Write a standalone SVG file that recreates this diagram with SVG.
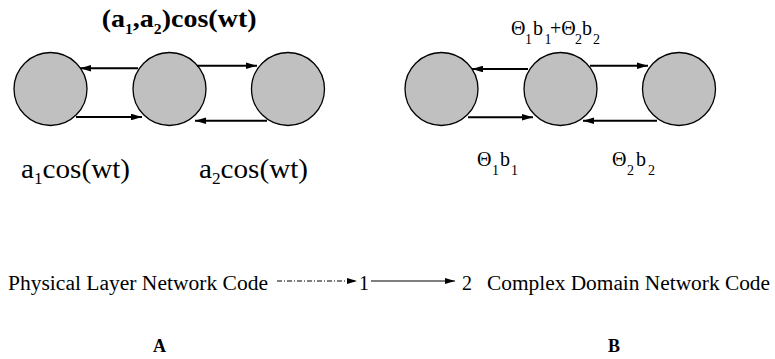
<svg xmlns="http://www.w3.org/2000/svg" width="775" height="359" viewBox="0 0 775 359">
<style>
.node circle{fill:#c0c0c0;stroke:#000;stroke-width:1.3}
.edge{stroke:#000;stroke-width:2;fill:none;marker-end:url(#ah)}
.t{font-family:"Liberation Serif","Times New Roman",serif;fill:#000}
.b{font-weight:bold}
</style>
<defs>
<marker id="ah" viewBox="0 0 10 6" refX="10" refY="3" markerWidth="5.5" markerHeight="3.3" markerUnits="strokeWidth" orient="auto">
<path d="M0,0 L10,3 L0,6 Z" fill="#000"/>
</marker>
<marker id="ah2" viewBox="0 0 10 6" refX="10" refY="3" markerWidth="12" markerHeight="6" markerUnits="userSpaceOnUse" orient="auto">
<path d="M0,0 L10,3 L0,6 Z" fill="#000"/>
</marker>
</defs>
<rect width="775" height="359" fill="#fff"/>

<g id="A1" class="node"><circle cx="50.5" cy="89" r="36.5"/></g>
<g id="A2" class="node"><circle cx="169.5" cy="89" r="36.5"/></g>
<g id="A3" class="node"><circle cx="288" cy="89" r="36.5"/></g>
<g id="B1" class="node"><circle cx="441.5" cy="89" r="36.5"/></g>
<g id="B2" class="node"><circle cx="560.5" cy="89" r="36.5"/></g>
<g id="B3" class="node"><circle cx="679" cy="89" r="36.5"/></g>

<g id="connectors">
<line class="edge" x1="138" y1="68.3" x2="80" y2="68.3"/>
<line class="edge" x1="197" y1="65.7" x2="257" y2="65.7"/>
<line class="edge" x1="76" y1="117" x2="142" y2="117"/>
<line class="edge" x1="267" y1="120.7" x2="195" y2="120.7"/>
<line class="edge" x1="528" y1="69" x2="472" y2="69"/>
<line class="edge" x1="590" y1="65.7" x2="648" y2="65.7"/>
<line class="edge" x1="468" y1="117.3" x2="533" y2="117.3"/>
<line class="edge" x1="657" y1="120.7" x2="583" y2="120.7"/>
<line x1="277" y1="281" x2="357" y2="281" stroke="#000" stroke-width="1" stroke-dasharray="5,2,1,2" marker-end="url(#ah2)"/>
<line x1="371" y1="281" x2="455" y2="281" stroke="#000" stroke-width="1.2" marker-end="url(#ah2)"/>
</g>

<text class="t b" font-size="25" transform="translate(101.7,27) scale(1.12,1)">(a<tspan font-size="14" dy="7">1</tspan><tspan dy="-7">,a</tspan><tspan font-size="14" dy="7">2</tspan><tspan dy="-7">)cos(wt)</tspan></text>

<text class="t" font-size="27" transform="translate(21,178) scale(1.08,1)">a<tspan font-size="16" dy="6">1</tspan><tspan dy="-6">cos(wt)</tspan></text>
<text class="t" font-size="27" transform="translate(199,178) scale(1.08,1)">a<tspan font-size="16" dy="6">2</tspan><tspan dy="-6">cos(wt)</tspan></text>

<text class="t" font-size="20"><tspan x="511" y="35">Θ</tspan><tspan x="525" y="44" font-size="14">1</tspan><tspan x="533" y="35">b</tspan><tspan x="544.5" y="44" font-size="14">1</tspan><tspan x="550" y="35">+Θ</tspan><tspan x="575" y="44" font-size="14">2</tspan><tspan x="582" y="35">b</tspan><tspan x="593" y="44" font-size="14">2</tspan></text>

<text class="t" font-size="20"><tspan x="477" y="166">Θ</tspan><tspan x="492" y="175" font-size="14">1</tspan><tspan x="500" y="166">b</tspan><tspan x="511" y="175" font-size="14">1</tspan></text>
<text class="t" font-size="20"><tspan x="612" y="166">Θ</tspan><tspan x="627" y="175" font-size="14">2</tspan><tspan x="636" y="166">b</tspan><tspan x="648" y="175" font-size="14">2</tspan></text>

<text class="t" font-size="20" x="8" y="290" textLength="260" lengthAdjust="spacingAndGlyphs">Physical Layer Network Code</text>
<text class="t" font-size="20" x="359" y="290">1</text>
<text class="t" font-size="20" x="462" y="290">2</text>
<text class="t" font-size="20" x="487" y="290" textLength="283" lengthAdjust="spacingAndGlyphs">Complex Domain Network Code</text>

<text class="t b" font-size="18" x="153" y="352">A</text>
<text class="t b" font-size="18" x="608" y="352">B</text>
</svg>
